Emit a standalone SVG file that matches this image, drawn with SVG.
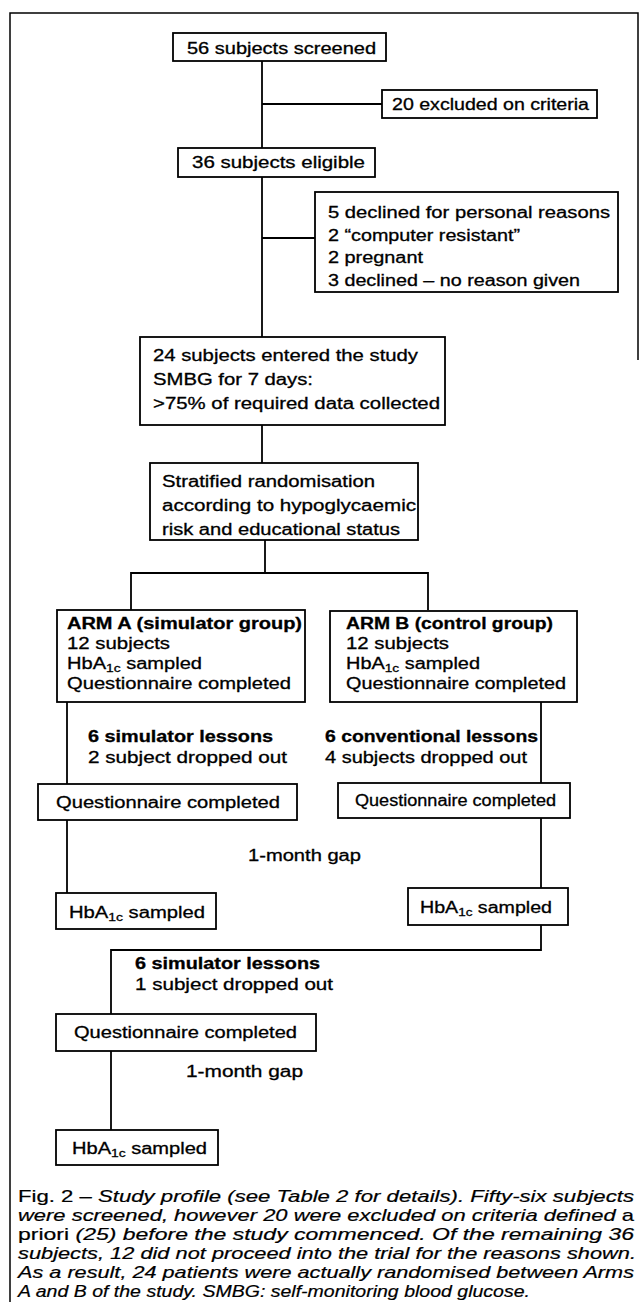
<svg xmlns="http://www.w3.org/2000/svg" width="640" height="1302" viewBox="0 0 640 1302">
<style>
.box{fill:#fff;stroke:#000;stroke-width:1.8}
.ln{fill:none;stroke:#000;stroke-width:1.8}
.frame{fill:none;stroke:#000;stroke-width:1.5}
text{font-family:"Liberation Sans",Arial,Helvetica,sans-serif;font-size:16px;fill:#000;stroke:#000;stroke-width:0.3}
.b{font-weight:bold}
.cap{font-family:"Liberation Sans",Arial,sans-serif;font-size:16.4px;font-style:italic;stroke-width:0.2}
.r{font-style:normal}
.sub{font-size:11px}
</style>
<rect width="640" height="1302" fill="#fff"/>
<path class="frame" d="M10,1302 V13 H638 V360"/>

<g id="connectors">
<path class="ln" d="M262,61 V148"/>
<path class="ln" d="M262,104 H382"/>
<path class="ln" d="M262,177 V337"/>
<path class="ln" d="M262,238 H315"/>
<path class="ln" d="M262,425 V463"/>
<path class="ln" d="M265,540 V573"/>
<path class="ln" d="M131,610 V573 H428 V610"/>
<path class="ln" d="M67,702 V784"/>
<path class="ln" d="M541,702 V783"/>
<path class="ln" d="M67,820 V893"/>
<path class="ln" d="M541,818 V888"/>
<path class="ln" d="M541,925 V950 H111 V1014"/>
<path class="ln" d="M111,1051 V1130"/>
</g>

<g id="screened">
<rect class="box" x="173" y="33" width="213" height="28"/>
<text x="187" y="54" textLength="189" lengthAdjust="spacingAndGlyphs">56 subjects screened</text>
</g>
<g id="excluded">
<rect class="box" x="382" y="90" width="215" height="28"/>
<text x="392" y="110" textLength="197" lengthAdjust="spacingAndGlyphs">20 excluded on criteria</text>
</g>
<g id="eligible">
<rect class="box" x="178" y="148" width="197" height="29"/>
<text x="192" y="168" textLength="173" lengthAdjust="spacingAndGlyphs">36 subjects eligible</text>
</g>
<g id="declined">
<rect class="box" x="315" y="192" width="303" height="100"/>
<text x="328" y="218" textLength="282" lengthAdjust="spacingAndGlyphs">5 declined for personal reasons</text>
<text x="328" y="241" textLength="192" lengthAdjust="spacingAndGlyphs">2 “computer resistant”</text>
<text x="328" y="263" textLength="95" lengthAdjust="spacingAndGlyphs">2 pregnant</text>
<text x="328" y="286" textLength="252" lengthAdjust="spacingAndGlyphs">3 declined – no reason given</text>
</g>
<g id="entered">
<rect class="box" x="140" y="337" width="305" height="88"/>
<text x="153" y="361" textLength="265" lengthAdjust="spacingAndGlyphs">24 subjects entered the study</text>
<text x="153" y="385" textLength="160" lengthAdjust="spacingAndGlyphs">SMBG for 7 days:</text>
<text x="153" y="409" textLength="287" lengthAdjust="spacingAndGlyphs">&gt;75% of required data collected</text>
</g>
<g id="randomisation">
<rect class="box" x="150" y="463" width="268" height="77"/>
<text x="162" y="487" textLength="213" lengthAdjust="spacingAndGlyphs">Stratified randomisation</text>
<text x="162" y="511" textLength="254" lengthAdjust="spacingAndGlyphs">according to hypoglycaemic</text>
<text x="162" y="535" textLength="238" lengthAdjust="spacingAndGlyphs">risk and educational status</text>
</g>
<g id="armA">
<rect class="box" x="57" y="610" width="248" height="92"/>
<text class="b" x="67" y="629" textLength="235" lengthAdjust="spacingAndGlyphs">ARM A (simulator group)</text>
<text x="67" y="649" textLength="103" lengthAdjust="spacingAndGlyphs">12 subjects</text>
<text x="67" y="669" textLength="135" lengthAdjust="spacingAndGlyphs">HbA<tspan class="sub" dy="3">1c</tspan><tspan dy="-3"> sampled</tspan></text>
<text x="67" y="689" textLength="224" lengthAdjust="spacingAndGlyphs">Questionnaire completed</text>
</g>
<g id="armB">
<rect class="box" x="330" y="611" width="247" height="91"/>
<text class="b" x="346" y="629" textLength="207" lengthAdjust="spacingAndGlyphs">ARM B (control group)</text>
<text x="346" y="649" textLength="103" lengthAdjust="spacingAndGlyphs">12 subjects</text>
<text x="346" y="669" textLength="134" lengthAdjust="spacingAndGlyphs">HbA<tspan class="sub" dy="3">1c</tspan><tspan dy="-3"> sampled</tspan></text>
<text x="346" y="689" textLength="220" lengthAdjust="spacingAndGlyphs">Questionnaire completed</text>
</g>
<g id="lessonsA">
<text class="b" x="88" y="742" textLength="185" lengthAdjust="spacingAndGlyphs">6 simulator lessons</text>
<text x="88" y="763" textLength="199" lengthAdjust="spacingAndGlyphs">2 subject dropped out</text>
</g>
<g id="lessonsB">
<text class="b" x="325" y="742" textLength="213" lengthAdjust="spacingAndGlyphs">6 conventional lessons</text>
<text x="325" y="763" textLength="202" lengthAdjust="spacingAndGlyphs">4 subjects dropped out</text>
</g>
<g id="questA">
<rect class="box" x="38" y="784" width="259" height="36"/>
<text x="56" y="808" textLength="224" lengthAdjust="spacingAndGlyphs">Questionnaire completed</text>
</g>
<g id="questB">
<rect class="box" x="338" y="783" width="232" height="35"/>
<text x="355" y="806" textLength="201" lengthAdjust="spacingAndGlyphs">Questionnaire completed</text>
</g>
<g id="gap1">
<text x="248" y="861" textLength="113" lengthAdjust="spacingAndGlyphs">1-month gap</text>
</g>
<g id="hbaA">
<rect class="box" x="56" y="893" width="160" height="36"/>
<text x="69" y="918" textLength="136" lengthAdjust="spacingAndGlyphs">HbA<tspan class="sub" dy="3">1c</tspan><tspan dy="-3"> sampled</tspan></text>
</g>
<g id="hbaB">
<rect class="box" x="408" y="888" width="160" height="37"/>
<text x="420" y="913" textLength="132" lengthAdjust="spacingAndGlyphs">HbA<tspan class="sub" dy="3">1c</tspan><tspan dy="-3"> sampled</tspan></text>
</g>
<g id="lessonsC">
<text class="b" x="135" y="969" textLength="185" lengthAdjust="spacingAndGlyphs">6 simulator lessons</text>
<text x="135" y="990" textLength="198" lengthAdjust="spacingAndGlyphs">1 subject dropped out</text>
</g>
<g id="questC">
<rect class="box" x="56" y="1014" width="260" height="37"/>
<text x="74" y="1038" textLength="223" lengthAdjust="spacingAndGlyphs">Questionnaire completed</text>
</g>
<g id="gap2">
<text x="186" y="1077" textLength="117" lengthAdjust="spacingAndGlyphs">1-month gap</text>
</g>
<g id="hbaC">
<rect class="box" x="56" y="1130" width="162" height="35"/>
<text x="72" y="1154" textLength="135" lengthAdjust="spacingAndGlyphs">HbA<tspan class="sub" dy="3">1c</tspan><tspan dy="-3"> sampled</tspan></text>
</g>

<g id="caption">
<text class="cap" x="18" y="1202" textLength="616" lengthAdjust="spacingAndGlyphs"><tspan class="r">Fig. 2 – </tspan>Study profile (see Table 2 for details). Fifty-six subjects</text>
<text class="cap" x="18" y="1221" textLength="616" lengthAdjust="spacingAndGlyphs">were screened, however 20 were excluded on criteria defined <tspan class="r">a</tspan></text>
<text class="cap" x="18" y="1240" textLength="616" lengthAdjust="spacingAndGlyphs"><tspan class="r">priori</tspan> (25) before the study commenced. Of the remaining 36</text>
<text class="cap" x="18" y="1259" textLength="618" lengthAdjust="spacingAndGlyphs">subjects, 12 did not proceed into the trial for the reasons shown.</text>
<text class="cap" x="18" y="1278" textLength="616" lengthAdjust="spacingAndGlyphs">As a result, 24 patients were actually randomised between Arms</text>
<text class="cap" x="18" y="1297" textLength="512" lengthAdjust="spacingAndGlyphs">A and B of the study. SMBG: self-monitoring blood glucose.</text>
</g>
</svg>
